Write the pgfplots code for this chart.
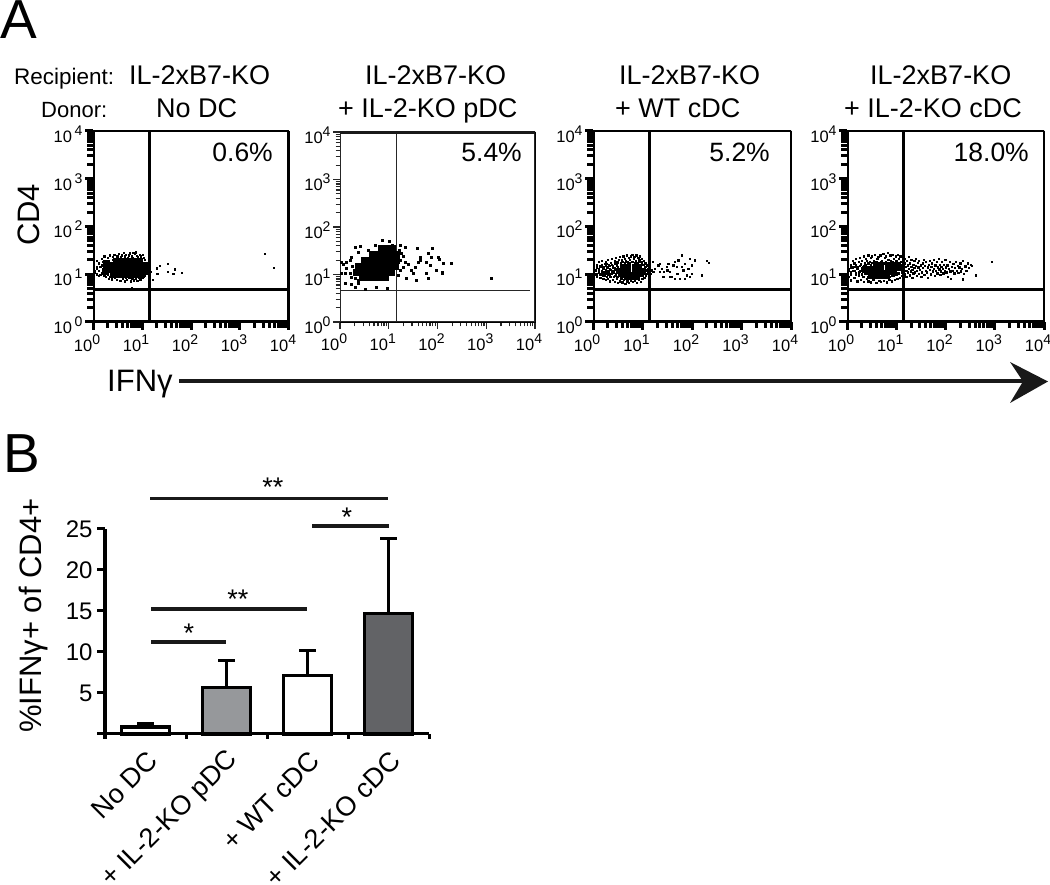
\documentclass[border=0pt]{standalone}
\usepackage{fontspec}
\setmainfont{Liberation Sans}
\usepackage{pgfplots}
\pgfplotsset{compat=1.18}

\newcommand\fsz[1]{\fontsize{#1}{#1}\selectfont}
\newcommand\expo[1]{10\raisebox{0.42em}{\fsz{14}#1}}
\newcommand\expog[1]{10\,\raisebox{0.42em}{\fsz{14}#1}}
% text placed in image pixels, y counted from the top
\newcommand\txtl[4]{\node[anchor=base west,inner sep=0pt,font=\fsz{#1}] at ({#2},{885-#3}) {#4};}
\newcommand\txtr[4]{\node[anchor=base east,inner sep=0pt,font=\fsz{#1}] at ({#2},{885-#3}) {#4};}
\newcommand\sigbar[3]{\draw[line width=3.6pt,color=black!90] ({#1},{885-#3}) -- ({#2},{885-#3});}

\definecolor{pdcgrey}{HTML}{96989B}
\definecolor{cdcgrey}{HTML}{626366}

\tikzset{
  fcsdots/.style={only marks,mark=square*,mark size=0.65pt,black,mark options={draw=none,fill=black}},
  fcscore/.style={only marks,mark=square*,mark size=3pt,black,mark options={draw=none,fill=black}},
  fcsgate/.style={black,line width=3pt},
  fcsthingate/.style={black!85,line width=1.3pt},
}

% interior of the negative population, panels 1, 3 and 4
\pgfplotstableread{
x y
1.3 12
1.4 14.5
1.5 10.5
1.5 16
1.6 13
1.7 11
1.7 9.5
1.8 15
1.9 12
1.9 16.5
2 10
2 13.5
2.1 11.5
2.2 15
2.2 9
2.3 12.5
2.4 16
2.4 10.5
2.5 14
2.6 11.5
2.6 8.8
2.7 17
2.8 12.8
2.9 10
3 15.5
3.1 9
3.2 17.5
3.4 11
3.6 16.5
3.7 9.2
3.9 18
4.1 9
4.4 17
4.6 8.6
4.9 18
5.2 9
5.5 17
5.9 8.7
6.2 18
6.6 9
7 17.5
7.4 8.8
7.8 17
8.2 9.2
8.6 18
9 9.5
9.5 17
10 9.8
10.5 16
11 10.5
11.3 14.5
11.8 12.5
12.3 16
12.7 11
1.2 14
1.2 10
1.1 12
}\pInner

% panel 1, No DC
\pgfplotstableread{
x y
1.9 17
3 19
4 19
5.2 19
6.8 19
8.8 19
1.9 14
2.5 15.5
3.3 15.5
4.3 15.5
5.6 15.5
7.3 15.5
9.5 15.5
11 15
1.8 11.5
2.3 12.5
3 12.5
4 12.5
5.2 12.5
6.8 12.5
8.8 12.5
10.5 12.5
2.6 10
3.5 10
4.6 10
6 10
7.8 10
9.5 10
}\pOneCore
\pgfplotstableread{
x y
1.2 13
1.3 17
1.1 11
1.4 9.8
1.2 19
1.5 21
1.6 12
1.3 9.2
1.7 24
1.8 8.8
1.5 15
1.9 10.5
1.6 18
2.0 22
2.1 8.2
1.8 13.5
2.2 25
2.3 9.3
2.0 16
2.4 7.9
2.5 23
2.2 11.2
2.7 26
2.8 8.5
2.6 20.5
3.0 7.6
3.1 24
2.9 21.5
3.3 8.9
3.4 27
3.6 7.4
3.2 22.5
3.8 25
4.0 8.1
3.7 23
4.2 28
4.4 7.2
4.1 21.5
4.7 26
4.9 7.8
4.5 24
5.1 22.5
5.3 8.4
5.6 27.5
5.8 7.1
5.4 25
6.1 24
6.3 8
6.6 28.5
6.8 7.5
6.4 22
7.1 26.5
7.4 8.3
7.7 24.5
8.0 7.3
7.5 29
8.3 23
8.6 8.6
8.9 26
9.2 7.9
9.5 24
9.8 9
10.2 25.5
10.5 8.4
10.9 22.5
11.2 9.5
11.5 20
11.9 11.2
12.2 17.5
12.5 13
12.8 15.5
11.7 14
12.1 10.3
13 12
13.5 19
2.1 18.5
1.7 15.5
13.4 14.4
15 11.3
16.5 7.6
20 13.3
23 15.1
20.5 10.1
33 16.4
34 11.3
47 12.7
43.5 10.1
64.5 10.8
3240 26.5
4940 13.7
6.2 5.3
}\pOneDots

% panel 2, IL-2-KO pDC
\pgfplotstableread{
x y
7 35
9 35
12 35
4.5 26.6
5.5 26.6
7 26.6
9 26.6
11.5 26.6
14 26.6
3.2 20
4.2 20
5.5 20
7 20
9 20
11.5 20
14.5 20
2.4 15
3.2 15
4.2 15
5.5 15
7 15
9 15
11.5 15
13.5 15
2.1 11
2.9 11
3.9 11
5.2 11
7 11
9 11
11 11
2.8 8.6
3.8 8.6
5 8.6
6.6 8.6
8.6 8.6
}\pTwoCore
\pgfplotstableread{
x y
1.08 18.3
1.17 16.4
1.6 19.9
1.37 13.3
1.73 23.3
2.03 38
2.38 30
2.57 39
1.6 10.8
1.27 10.4
1.08 10.4
1.27 6.4
1.73 6.2
2.38 6.4
2.03 5.5
3.26 5
5.65 5.5
9.4 5.2
3.81 32
5.2 41
7.5 52
10.3 51
11.5 41
17 41
21.5 38
38.6 35
78 35
18.4 27.5
17 19.9
19.9 14.4
25.2 16.4
34.5 14.4
43.8 23.3
43.8 19.9
65 27.5
60 18.3
76 23.3
104 23.3
109 21.5
195 17.5
132 16.9
23.3 8.2
37.4 7.5
32 10.8
60 10.4
65 8.2
96 12.2
122 11.3
122 10.4
1290 8.2
17 12.2
15.7 9.6
29.5 12.2
40.5 18.3
70 15.6
2.03 8.2
2.38 7.5
1.73 8.8
1.37 18
1.8 15
15 26
16 33
20 24
22 18
13 31
}\pTwoDots

% panel 3, WT cDC
\pgfplotstableread{
x y
4 14.5
5.2 14.5
6.8 14.5
8.5 14.5
3.2 12
4 12
5.2 12
6.8 12
8.5 12
10 12
3.5 10
4.5 10
5.8 10
7.5 10
9.5 10
4.8 8.8
6.2 8.8
7.8 8.8
}\pThreeCore
\pgfplotstableread{
x y
1.1 10
1.1 12.5
1.2 9
1.2 14
1.2 16
1.3 11
1.3 13
1.3 18
1.4 8.5
1.4 10
1.4 15
1.5 12
1.5 19
1.6 8
1.6 9.5
1.6 14
1.6 11
1.7 16.5
1.8 7.8
1.8 12.5
1.8 10.5
1.8 18
1.9 14
1.9 9
2 20
2 11.5
2 8
2.1 15.5
2.2 7.2
2.2 13
2.2 10
2.3 17.5
2.3 9
2.4 21
2.4 12
2.5 7.8
2.5 15
2.6 10.8
2.7 19
2.7 7
2.7 13.5
2.8 9.2
2.9 22
2.9 16.5
3 8
3 11
3.1 18
3.2 6.6
3.2 14
3.3 20
3.3 9.5
3.5 23
3.5 7.2
3.6 17
3.7 8.3
3.8 20.5
3.9 6.8
4 18
4.1 24
4.2 7.6
4.4 21
4.5 6.4
4.6 19
4.8 25
4.9 7.1
5 17.5
5.2 22
5.3 6.7
5.5 20
5.7 24
5.8 7.4
6 18
6.2 26
6.4 6.9
6.6 21
6.8 23
7 7.5
7.2 19
7.5 25
7.7 6.6
7.9 17
8.2 22
8.4 7.8
8.6 20
8.9 24
9.1 7
9.4 18
9.7 21
9.9 8.2
10.2 16
10.5 19.5
10.8 8.6
11 14
11.3 17
11.5 9.3
11.8 12
12 15
12.2 10.2
12.6 13
13 11
13.5 16
13.2 8.8
14 12
14.5 10.2
16 18.1
15.2 12.1
16.5 11.2
17.8 13.1
14.1 8.8
20.8 15.4
22.5 16.7
24.3 13.1
22.5 11.2
26.2 8.8
30.6 14.3
31.6 12.1
33 16.7
35.8 11.2
38.7 8.8
41.9 15.4
45.2 18.1
48.9 14.3
50.5 10.3
52.9 19.7
61.8 25
61.8 14.3
66.7 12.1
72 16.7
78 9.5
84 13.1
91 21.3
98 15.4
98 10.3
115 19.7
157 9.5
198 19
214 17.3
57 8.1
45.2 8.1
35.8 8.8
27 11.2
72 8.1
91 8.8
}\pThreeDots

% panel 4, IL-2-KO cDC
\pgfplotstableread{
x y
3.8 16
5 16
6.5 16
8.5 16
11 16
2.3 13.5
3 13.5
3.9 13.5
5 13.5
6.5 13.5
8.5 13.5
11 13.5
13 13.5
2.5 11
3.2 11
4.2 11
5.4 11
7 11
9 11
3 9.2
4 9.2
5.2 9.2
6.5 9.2
}\pFourCore
\pgfplotstableread{
x y
1.1 9
1.1 13
1.2 11
1.2 16
1.2 7.5
1.3 14
1.3 19
1.4 8.5
1.4 12
1.4 17
1.5 10
1.5 21
1.6 7.2
1.6 14
1.7 18
1.7 9.5
1.8 11.5
1.8 22
1.9 7.8
1.9 16
2 13
2 19.5
2.1 9
2.2 24
2.2 7
2.3 17
2.4 21
2.5 8
2.5 19
2.7 25
2.7 7.2
2.9 18
3 22
3 6.8
3.2 24
3.4 7.6
3.5 19
3.7 26
3.9 6.6
4.1 21
4.3 23
4.5 7.3
4.7 25
4.9 6.9
5.1 19.5
5.4 27
5.6 7.4
5.9 22
6.1 24
6.4 6.8
6.6 28
6.9 20
7.2 7.6
7.5 25
7.8 19
8.1 7.1
8.5 26
8.9 21
9.2 7.8
9.6 24
10 19
10.4 8.1
10.8 26
11.2 21
11.6 8.5
12 24
12.5 18.5
13 9.2
13.4 26
14 14
14 13
14.5 17
15 10
15 21
15.5 14.5
16 12
16 8.8
16.5 19
17 11
17 15.5
18 13
18 23
18.5 9.6
19 17
19.5 11.5
20 14.5
20 20
21 8.5
21 12.5
22 16
22 10.5
23 19
23 13.5
24 11
25 15
25 21.5
26 9.2
26 12
27 17.5
28 14
29 10.3
29 19.5
30 12.5
31 15.5
32 8.8
33 11
34 17
35 13.5
36 20.5
37 9.8
38 15
39 12
40 18
42 11
43 14
44 8.6
45 16
47 19.5
48 12.5
50 10
51 14.5
53 17
55 11.5
57 13
58 20
60 9.2
62 15.5
64 12
66 18
68 10.5
70 14
72 21
74 12.8
76 16
78 9.8
80 11.5
82 14.5
84 18.5
87 13
90 10.5
92 16
95 12
98 20
100 14
104 11
108 15.5
112 9
116 13
120 18
124 11.5
128 8
132 14.5
138 12
144 16.5
150 10.5
155 13.5
160 18.5
168 12
175 15
182 10.8
190 14
198 17
205 11.5
215 13.2
225 19
235 10.2
250 14.8
265 12
280 17
300 13.5
320 16
340 15
220 7.9
417 9.5
870 18
}\pFourDots

\begin{document}
\begin{tikzpicture}[x=1pt,y=1pt]
\path[use as bounding box] (0,0) rectangle (1050,885);

% panel A: settings shared by the four flow plots
\begin{scope}
\pgfplotsset{
  scale only axis,
  xmin=1, xmax=10000, ymin=1, ymax=10000,
  xtick={1,10,100,1000,10000}, ytick={1,10,100,1000,10000},
  xticklabels={\expo0,\expo1,\expo2,\expo3,\expo4},
  yticklabels={\expo0,\expo1,\expo2,\expo3,\expo4},
  tick pos=left, tick align=outside,
  tickwidth=8pt, subtickwidth=6pt,
  tick style={line width=3pt,black},
  minor tick style={line width=3pt,black},
  x tick label style={font=\fsz{16.5},xshift=-6pt,yshift=-1pt},
  y tick label style={font=\fsz{16.5},yshift=-3pt,xshift=1pt},
}
\begin{loglogaxis}[width=196pt, height=191pt,
  yticklabels={\expog0,\expog1,\expog2,\expog3,\expog4},
  at={(93pt,563pt)}, anchor=south west]
\addplot[fcscore] table {\pOneCore};
\addplot[fcsdots] table {\pInner};
\addplot[fcsdots] table {\pOneDots};
\addplot[fcsgate] coordinates {(14,1) (14,10000)};
\addplot[fcsgate] coordinates {(1,4.7) (10000,4.7)};
\draw[line width=3pt] (rel axis cs:0,0) rectangle (rel axis cs:1,1);
\end{loglogaxis}

\begin{loglogaxis}[width=195pt, height=190pt,
  tickwidth=7pt, subtickwidth=4.5pt,
  tick style={line width=1.2pt,black!85},
  minor tick style={line width=1.2pt,black!85},
  at={(340pt,563pt)}, anchor=south west]
\addplot[fcscore] table {\pTwoCore};
\addplot[fcsdots, mark size=1pt] table {\pTwoDots};
\addplot[fcsthingate] coordinates {(14.5,1) (14.5,10000)};
\addplot[fcsthingate] coordinates {(1,4.6) (8000,4.6)};
\draw[line width=1.5pt,black!85] (rel axis cs:0,0) rectangle (rel axis cs:1,1);
\draw[line width=3.2pt,black!90] (rel axis cs:0,1) -- (rel axis cs:1,1);
\end{loglogaxis}

\begin{loglogaxis}[width=198pt, height=191pt,
  at={(593pt,563pt)}, anchor=south west]
\addplot[fcscore, mark size=2.2pt] table {\pThreeCore};
\addplot[fcsdots] table {\pInner};
\addplot[fcsdots] table {\pThreeDots};
\addplot[fcsgate] coordinates {(13.7,1) (13.7,10000)};
\addplot[fcsgate] coordinates {(1,4.7) (10000,4.7)};
\draw[line width=3pt] (rel axis cs:0,0) rectangle (rel axis cs:1,1);
\end{loglogaxis}

\begin{loglogaxis}[width=197pt, height=191pt,
  at={(847pt,563pt)}, anchor=south west]
\addplot[fcscore, mark size=2.2pt] table {\pFourCore};
\addplot[fcsdots] table {\pInner};
\addplot[fcsdots] table {\pFourDots};
\addplot[fcsgate] coordinates {(14,1) (14,10000)};
\addplot[fcsgate] coordinates {(1,4.7) (10000,4.7)};
\draw[line width=3pt] (rel axis cs:0,0) rectangle (rel axis cs:1,1);
\end{loglogaxis}
\end{scope}

% panel B
\begin{axis}[scale only axis,
  width=324pt, height=205pt,
  xmin=-0.5, xmax=3.5, ymin=0, ymax=25,
  axis lines=left, axis line style={-,line width=3pt},
  clip=false,
  xtick={0,1,2,3},
  xticklabels={No DC,+ IL-2-KO pDC,+ WT cDC,+ IL-2-KO cDC},
  x tick style={draw=none},
  x tick label style={font=\fsz{27},xshift=10pt,yshift=-12pt,rotate=45,anchor=east},
  ytick={0,5,10,15,20,25}, yticklabels={,5,10,15,20,25},
  tick align=outside, tickwidth=8pt,
  y tick style={line width=3pt,black},
  y tick label style={font=\fsz{24},xshift=-1pt},
  error bars/y dir=plus, error bars/y explicit,
  error bars/error bar style={line width=3pt,black},
  error bars/error mark options={line width=3pt,mark size=8.5pt,black,rotate=90},
  at={(105pt,151pt)}, anchor=south west,
]
\addplot[ybar, bar shift=0pt, bar width=48pt, draw=black, line width=3.2pt, fill=white] coordinates {(0,0.85) +- (0,0.4)};
\addplot[ybar, bar shift=0pt, bar width=48pt, draw=black, line width=3.2pt, fill=pdcgrey] coordinates {(1,5.7) +- (0,3.3)};
\addplot[ybar, bar shift=0pt, bar width=48pt, draw=black, line width=3.2pt, fill=white] coordinates {(2,7.1) +- (0,3.1)};
\addplot[ybar, bar shift=0pt, bar width=48pt, draw=black, line width=3.2pt, fill=cdcgrey] coordinates {(3,14.7) +- (0,9.1)};
% short ticks between the categories
\draw[line width=3pt] (axis cs:-0.5,0) -- ++(0pt,-5pt);
\draw[line width=3pt] (axis cs:0.5,0) -- ++(0pt,-5pt);
\draw[line width=3pt] (axis cs:1.5,0) -- ++(0pt,-5pt);
\draw[line width=3pt] (axis cs:2.5,0) -- ++(0pt,-5pt);
\draw[line width=3pt] (axis cs:3.5,0) -- ++(0pt,-5pt);
\end{axis}

\node[rotate=90,inner sep=0pt,font=\fsz{31}] at (29,670) {CD4};
\node[rotate=90,anchor=base west,inner sep=0pt,font=\fsz{31}] at (41,152) {\%IFNγ+ of CD4+};

% panel letters and headers
\txtl{55}{0}{39}{A}
\txtl{55}{3}{473}{B}
\txtl{22.5}{14}{85}{Recipient:}
\txtl{22}{41}{118}{Donor:}
\txtl{27}{129}{85}{IL-2xB7-KO}
\txtl{27}{156}{118}{No DC}
\txtl{27}{365}{85}{IL-2xB7-KO}
\txtl{27}{338}{118}{+ IL-2-KO pDC}
\txtl{27}{619}{85}{IL-2xB7-KO}
\txtl{27}{615}{118}{+ WT cDC}
\txtl{27}{870}{85}{IL-2xB7-KO}
\txtl{27}{844}{118}{+ IL-2-KO cDC}
\txtr{26.5}{273}{162}{0.6\%}
\txtr{26.5}{522}{162}{5.4\%}
\txtr{26.5}{770}{162}{5.2\%}
\txtr{26.5}{1029}{162}{18.0\%}
\txtl{31}{107}{392}{IFNγ}

% long arrow
\draw[line width=4pt,black!90] (179,{885-381.5}) -- (1025,{885-381.5});
\fill[black!90] (1048,{885-381.5}) -- (1010,{885-362}) -- (1023,{885-381.5}) -- (1010,{885-403}) -- cycle;

% significance bars
\sigbar{150}{388}{498.5}
\sigbar{312}{389}{526}
\sigbar{151}{307}{609}
\sigbar{151}{226}{642}
\node[inner sep=0pt,font=\fsz{27},anchor=base] at (273,{885-497}) {**};
\node[inner sep=0pt,font=\fsz{27},anchor=base] at (347,{885-527}) {*};
\node[inner sep=0pt,font=\fsz{27},anchor=base] at (238,{885-609}) {**};
\node[inner sep=0pt,font=\fsz{27},anchor=base] at (189,{885-643}) {*};
\end{tikzpicture}
\end{document}
